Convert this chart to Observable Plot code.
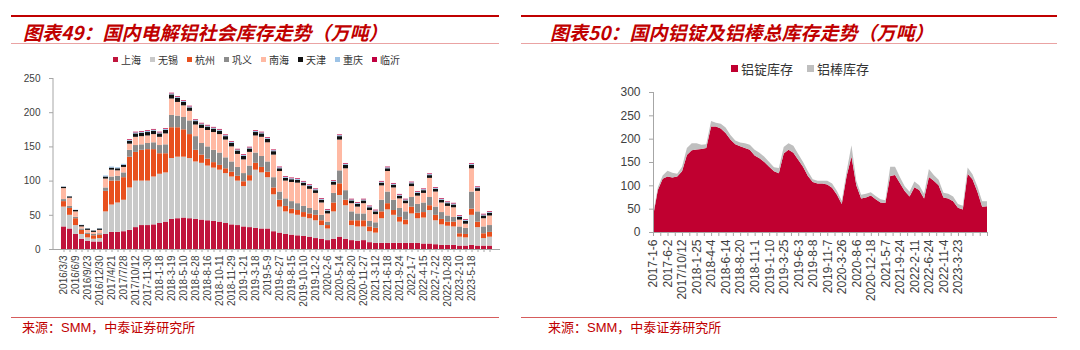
<!DOCTYPE html>
<html><head><meta charset="utf-8">
<script src="https://cdn.jsdelivr.net/npm/d3@7"></script>
<script src="https://cdn.jsdelivr.net/npm/@observablehq/plot@0.6"></script>
<style>
body{margin:0;width:1080px;height:350px;position:relative;background:#fff;overflow:hidden;font-family:"Liberation Sans",Arial,sans-serif;}
.topline{position:absolute;height:2px;background:#c00000;top:15px;}
.pinkline{position:absolute;height:1px;background:#eaa3a3;top:43px;}
.botline{position:absolute;height:1px;background:#d65c5c;top:317px;}
.title{position:absolute;top:20px;font-family:"Noto Sans CJK SC",sans-serif;font-style:italic;font-weight:bold;font-size:19px;color:#c00000;white-space:nowrap;line-height:24px;}
.source{position:absolute;top:319px;font-family:"Liberation Sans","Noto Sans CJK SC",sans-serif;font-size:13px;color:#c00000;line-height:18px;white-space:nowrap;}
.legend{position:absolute;display:flex;font-family:"Noto Sans CJK SC",sans-serif;color:#333;white-space:nowrap;align-items:center;}
.legend .it{display:flex;align-items:center;}
.legend .sw{display:inline-block;}
.panel{position:absolute;}
</style></head>
<body>
<div class="topline" style="left:11px;width:488px"></div>
<div class="topline" style="left:521px;width:536px"></div>
<div class="title" style="left:23px">图表49：国内电解铝社会库存走势（万吨）</div>
<div class="title" style="left:550px">图表50：国内铝锭及铝棒总库存走势（万吨）</div>
<div class="pinkline" style="left:11px;width:488px"></div>
<div class="pinkline" style="left:521px;width:536px"></div>
<div id="legL" class="legend" style="left:113px;top:52px;height:14px;font-size:10px;gap:9px"></div>
<div id="legR" class="legend" style="left:731px;top:60px;height:16px;font-size:13px;gap:14px"></div>
<div id="left" class="panel" style="left:0;top:70px"></div>
<div id="right" class="panel" style="left:540px;top:84px"></div>
<div class="botline" style="left:11px;width:488px"></div>
<div class="botline" style="left:521px;width:536px"></div>
<div class="source" style="left:22px">来源：SMM，中泰证券研究所</div>
<div class="source" style="left:548px">来源：SMM，中泰证券研究所</div>
<script>
// ---------- Left chart: 国内电解铝社会库存 (万吨), two bars per label interval ----------
const leftLabels = ["2016/3/3","2016/6/9","2016/9/23","2016/12/30","2017/4/21","2017/7/28","2017/10/12","2017-11-30","2018-1-18","2018-3-19","2018-5-10","2018-6-28","2018-8-16","2018-10-11","2018-11-29","2019-1-21","2019-3-18","2019-5-9","2019-6-27","2019-8-15","2019-10-10","2019-12-2","2020-2-6","2020-5-14","2020-8-20","2020-11-27","2021-3-12","2021-6-18","2021-9-24","2022-1-7","2022-4-15","2022-7-22","2022-10-28","2023-2-10","2023-5-18"];
const leftNames = ["上海","无锡","杭州","巩义","南海","天津","重庆","临沂"];
const leftColors = ["#c0143c","#c9c9c9","#e8501e","#8c8c8c","#ffb9a3","#111111","#9dc3e6","#c00040"];
const shanghai = [33,30,22,15,12,11,11,22,25,25,26,28,32,35,35,36,38,40,44,45,46,45,44,43,42,41,40,38,36,35,33,32,31,30,30,26,24,22,21,20,19,18,16,15,13,15,18,15,13,12,13,10,9,9,9,9,9,9,9,9,8,8,7,6,6,6,5,5,6,5,5,5];
const wuxi = [29,20,13,7,5,4,5,33,40,43,46,62,68,65,65,70,72,72,89,90,89,88,84,83,80,78,76,73,70,65,59,68,85,82,75,54,38,33,31,30,28,27,26,20,17,40,61,49,22,21,20,16,15,36,49,41,31,27,43,36,38,49,35,30,28,27,13,12,44,27,11,13];
const hangzhou = [8,10,10,6,5,5,5,30,35,32,33,45,42,45,46,40,30,28,45,43,40,35,17,12,10,8,7,7,7,7,7,8,10,8,8,10,10,8,7,7,7,7,8,7,5,13,17,8,7,9,9,7,7,10,9,7,7,7,10,8,8,7,8,8,6,7,5,5,9,8,7,7];
const gongyi = [3,3,2,2,2,2,2,5,6,7,7,10,10,8,9,10,12,13,18,17,18,20,20,17,18,18,18,16,15,13,12,14,15,16,15,15,12,11,11,10,9,8,7,8,5,14,19,14,13,10,10,8,8,17,17,15,13,12,14,13,14,12,12,10,9,7,10,9,25,15,10,10];
const nanhai = [16,12,8,3,4,3,5,13,10,8,8,9,12,12,11,12,12,16,24,20,17,14,17,22,24,26,27,26,22,19,20,20,25,28,28,33,30,26,28,30,30,28,25,18,12,12,45,32,12,10,15,16,12,21,30,18,14,12,16,12,14,28,22,14,14,14,10,6,34,30,12,14];
const tianjin = [2,2,2,2,2,2,2,3,3,3,3,4,5,5,5,5,5,5,6,6,5,5,5,5,5,5,5,5,5,5,5,5,5,5,5,5,4,4,4,4,4,4,4,4,4,4,5,5,4,4,4,4,4,4,4,4,4,4,4,4,4,4,4,4,4,4,4,4,5,4,4,4];
const chongqing = [0.5,0.5,0.5,0.5,0.5,0.5,0.5,1.5,1.5,1.5,1.5,1.5,1.5,1.5,1.5,1.5,1.5,1.5,1.5,1.5,1.5,1.5,1.5,1.5,1.5,1.5,1.5,1.5,1.5,1.5,1.5,1.5,1.5,1.5,1.5,1.5,1.5,1.5,1.5,1.5,1.5,1.5,1.5,1.5,1.5,1.5,1.5,1.5,1.5,1.5,1.5,1.5,1.5,1.5,1.5,1.5,1.5,1.5,1.5,1.5,1.5,1.5,1.5,1.5,1.5,1.5,1.5,1.5,1.5,1.5,1.5,1.5];
const linyi = [0,0,0,0,0,0,0,0,0,0,0,1,1,1,1,1,1,1,1,1,1,1,1,1,1,1,1,1,1,1,1,1,1,1,1,1,1,1,1,1,1,1,1,1,1,1,1,1,1,1,1,1,1,1,1,1,1,1,1,1,1,1,1,1,1,1,1,1,1,1,1,1];
const leftTicks = [0,50,100,150,200,250];

// ---------- Right chart: 国内铝锭及铝棒总库存 (万吨), three points per label interval ----------
const rightLabels = ["2017-1-6","2017-6-2","2017/10/12","2018-1-25","2018-4-4","2018-6-14","2018-8-20","2018-11-1","2019-1-10","2019-3-25","2019-6-3","2019-8-8","2019-11-7","2020-3-26","2020-8-6","2020-12-18","2021-5-7","2021-9-24","2022-2-11","2022-6-24","2022-11-4","2023-3-23"];
const rightNames = ["铝锭库存","铝棒库存"];
const rightColors = ["#c00030","#bfbfbf"];
const ingot = [33,90,114,119,117,119,130,165,175,177,178,180,226,226,222,212,198,188,184,180,176,164,158,150,140,130,126,168,176,170,155,140,120,107,104,104,102,95,80,60,120,162,100,72,74,78,70,63,62,120,122,105,88,76,96,90,72,118,110,100,74,72,66,52,48,125,113,87,54,55];
const rod = [5,6,7,12,10,6,10,15,15,13,9,8,12,8,10,12,10,8,8,10,11,12,12,11,10,9,11,14,14,15,12,10,10,6,6,6,8,9,8,7,10,24,10,8,8,7,7,7,6,20,18,13,10,10,12,10,10,17,12,12,10,10,10,8,8,13,11,11,12,11];
const rightTicks = [0,50,100,150,200,250,300];

const axisGray = "#a6a6a6", textGray = "#404040";

// Left data table
const leftSeries = [shanghai,wuxi,hangzhou,gongyi,nanhai,tianjin,chongqing,linyi];
const nL = shanghai.length;
const leftRows = leftSeries.flatMap((vals, s) => vals.map((v, k) => ({k, name: leftNames[s], v})));
const kDomain = d3.range(nL);

const leftChart = Plot.plot({
  width: 540, height: 245,
  marginLeft: 53, marginRight: 40, marginTop: 8, marginBottom: 66,
  style: {fontFamily: "'Liberation Sans', Arial, sans-serif", fontSize: "10px", background: "transparent", overflow: "visible"},
  x: {type: "band", domain: kDomain, padding: 0.22, axis: null},
  y: {domain: [0, 250], axis: null},
  color: {domain: leftNames, range: leftColors},
  marks: [
    Plot.barY(leftRows, {x: "k", y: "v", fill: "name"}),
    Plot.ruleY([0], {stroke: axisGray}),
    Plot.axisY({ticks: leftTicks, label: null, tickSize: 4, tickPadding: 9, stroke: axisGray, fill: textGray, fontSize: 10}),
    Plot.axisX({ticks: kDomain, label: null, tickFormat: k => k % 2 === 0 && leftLabels[k / 2] ? leftLabels[k / 2] : "", tickRotate: -90, tickSize: 3, tickPadding: 3, stroke: axisGray, fill: textGray, fontSize: 10})
  ]
});
document.getElementById("left").appendChild(leftChart);
{
  const svg = d3.select(leftChart.tagName.toLowerCase() === "svg" ? leftChart : leftChart.querySelector("svg"));
  const yr = leftChart.scale("y").range;
  svg.append("line").attr("x1", 53).attr("x2", 53).attr("y1", yr[0]).attr("y2", yr[1]).attr("stroke", axisGray);
}

// Right data table
const rightRows = [ingot, rod].flatMap((vals, s) => vals.map((v, k) => ({k, name: rightNames[s], v})));
const nR = ingot.length;
const rightChart = Plot.plot({
  width: 540, height: 223,
  marginLeft: 113, marginRight: 93, marginTop: 8, marginBottom: 75,
  style: {fontFamily: "'Liberation Sans', Arial, sans-serif", fontSize: "12px", background: "transparent", overflow: "visible"},
  x: {domain: [0, nR - 1], axis: null},
  y: {domain: [0, 300], axis: null},
  color: {domain: rightNames, range: rightColors},
  marks: [
    Plot.areaY(rightRows, {x: "k", y: "v", fill: "name", curve: "linear"}),
    Plot.ruleY([0], {stroke: axisGray}),
    Plot.ruleX([0], {stroke: axisGray}),
    Plot.axisY({ticks: rightTicks, label: null, tickSize: 4, tickPadding: 9, stroke: axisGray, fill: textGray, fontSize: 12}),
    Plot.axisX({ticks: d3.range(0, nR, 1.5), label: null, tickFormat: t => (t % 3 === 0 && rightLabels[t / 3]) ? rightLabels[t / 3] : "", tickRotate: -90, tickSize: 4, tickPadding: 3, stroke: axisGray, fill: textGray, fontSize: 12})
  ]
});
document.getElementById("right").appendChild(rightChart);

// Legends
function legend(id, names, colors, sw, gap) {
  const el = document.getElementById(id);
  names.forEach((n, i) => {
    const it = document.createElement("div"); it.className = "it";
    const s = document.createElement("span"); s.className = "sw";
    s.style.width = sw + "px"; s.style.height = sw + "px"; s.style.background = colors[i]; s.style.marginRight = gap + "px";
    const t = document.createElement("span"); t.textContent = n;
    it.appendChild(s); it.appendChild(t); el.appendChild(it);
  });
}
legend("legL", leftNames, leftColors, 5, 3);
legend("legR", rightNames, rightColors, 7, 3);
</script>
</body></html>
